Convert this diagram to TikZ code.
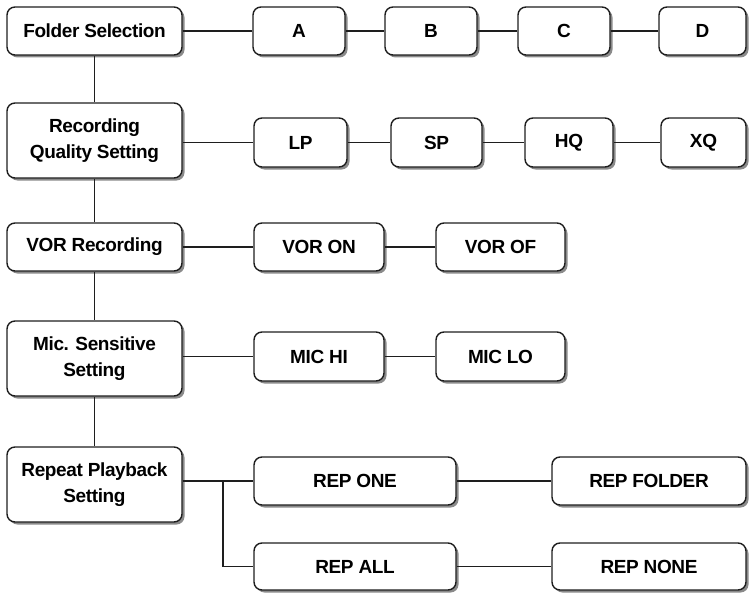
\documentclass[tikz,border=0pt]{standalone}
\usepackage{fontspec}
\setmainfont{Liberation Sans}
\newfontfamily\boxfont[LetterSpace=-2]{Liberation Sans}
\usetikzlibrary{shadows}
\definecolor{lineclr}{HTML}{1E1E1E}
\definecolor{shadowclr}{HTML}{8A8A8A}
\begin{document}
\begin{tikzpicture}[x=1pt,y=-1pt,
  box/.style={draw=lineclr, line width=1.4pt, rounded corners=8pt, fill=white,
    inner sep=0pt, align=center, font=\boxfont\fontsize{19}{26}\selectfont\bfseries,
    drop shadow={shadow xshift=2.5pt, shadow yshift=-2.5pt, fill=shadowclr, opacity=1}},
  link/.style={draw=lineclr, line width=1.6pt}]
\useasboundingbox (0,0) rectangle (749,594);
% left column
\node[box, minimum width=175pt, minimum height=48pt] (fs) at (94.5,31) {Folder Selection};
\node[box, minimum width=175pt, minimum height=75pt] (rq) at (94.5,140.5) {Recording\\Quality Setting};
\node[box, minimum width=175pt, minimum height=48pt] (vr) at (94.5,247) {VOR Recording};
\node[box, minimum width=175pt, minimum height=75pt] (ms) at (94.5,358.5) {Mic. Sensitive\\Setting};
\node[box, minimum width=175pt, minimum height=75pt] (rp) at (94.5,484.5) {Repeat Playback\\Setting};
% row 1
\node[box, minimum width=92pt, minimum height=48pt] (a) at (299,31) {A};
\node[box, minimum width=92pt, minimum height=48pt] (b) at (431,31) {B};
\node[box, minimum width=92pt, minimum height=48pt] (c) at (564,31) {C};
\node[box, minimum width=87pt, minimum height=48pt] (d) at (702.5,31) {D};
% row 2
\node[box, minimum width=93pt, minimum height=49pt] (lp) at (300.5,142.5) {LP};
\node[box, minimum width=91pt, minimum height=49pt] (sp) at (436.5,142.5) {SP};
\node[box, minimum width=88pt, minimum height=49pt] (hq) at (569,142.5) {HQ};
\node[box, minimum width=85pt, minimum height=49pt] (xq) at (703.5,142.5) {XQ};
% row 3
\node[box, minimum width=130pt, minimum height=48pt] (von) at (319,247) {VOR ON};
\node[box, minimum width=129pt, minimum height=48pt] (vof) at (500.5,247) {VOR OF};
% row 4
\node[box, minimum width=130pt, minimum height=49pt] (mhi) at (319,356.5) {MIC HI};
\node[box, minimum width=129pt, minimum height=49pt] (mlo) at (500.5,356.5) {MIC LO};
% row 5
\node[box, minimum width=202pt, minimum height=48pt] (rone) at (355,481) {REP ONE};
\node[box, minimum width=194pt, minimum height=48pt] (rfol) at (649,481) {REP FOLDER};
\node[box, minimum width=202pt, minimum height=47pt] (rall) at (355,566.5) {REP ALL};
\node[box, minimum width=194pt, minimum height=47pt] (rnone) at (649,566.5) {REP NONE};
\coordinate (j) at (223,481);
% spine
\draw[link] (fs.south) -- (rq.north);
\draw[link] (rq.south) -- (vr.north);
\draw[link] (vr.south) -- (ms.north);
\draw[link] (ms.south) -- (rp.north);
% rows
\draw[link] (fs) -- (a);
\draw[link] (a) -- (b);
\draw[link] (b) -- (c);
\draw[link] (c) -- (d);
\draw[link] (rq.east |- lp.west) -- (lp.west);
\draw[link] (lp) -- (sp);
\draw[link] (sp) -- (hq);
\draw[link] (hq) -- (xq);
\draw[link] (vr) -- (von);
\draw[link] (von) -- (vof);
\draw[link] (ms.east |- mhi.west) -- (mhi.west);
\draw[link] (mhi) -- (mlo);
\draw[link] (rp.east |- rone.west) -- (rone.west);
\draw[link] (j) |- (rall.west);
\draw[link] (rone) -- (rfol);
\draw[link] (rall) -- (rnone);
\end{tikzpicture}
\end{document}
